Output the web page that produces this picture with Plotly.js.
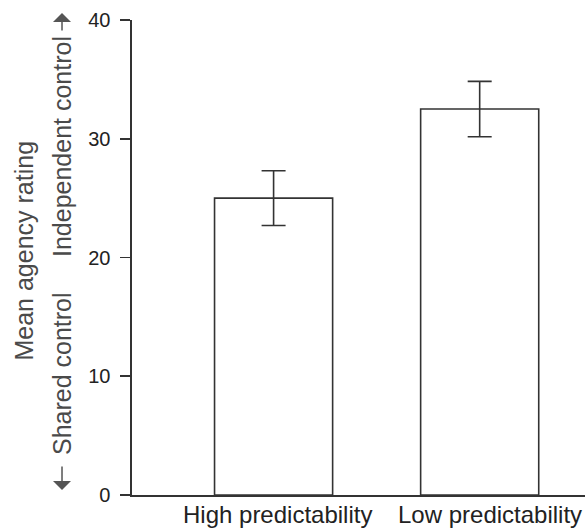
<!DOCTYPE html>
<html>
<head>
<meta charset="utf-8">
<script src="https://cdn.plot.ly/plotly-3.0.1.min.js"></script>
<style>html,body{margin:0;padding:0;background:#fff;}#chart{width:585px;height:528px;}</style>
</head>
<body>
<div id="chart"></div>
<script>
const categories = ["High predictability", "Low predictability"];
const meanRatings = [25.0, 32.5];
const errorValues = [2.3, 2.33];
const yTickValues = [0, 10, 20, 30, 40];
const yTitle = "Mean agency rating";
const lowLabel = "Shared control";
const highLabel = "Independent control";

const FONT = "Liberation Sans, Arial, Helvetica, sans-serif";
const INK = "#333333";
const TITLE_INK = "#4a4a4a";

const trace = {
  type: "bar",
  x: categories,
  y: meanRatings,
  width: 0.573,
  marker: { color: "#ffffff", line: { color: INK, width: 1.6 } },
  error_y: { type: "data", array: errorValues, visible: true, color: INK, thickness: 1.6, width: 12 },
  hoverinfo: "none"
};

const labelShifts = [4, 10];
const catAnnotations = categories.map((c, i) => ({
  text: c, xref: "x", yref: "paper", x: c, y: 0, yshift: -4, xshift: labelShifts[i],
  xanchor: "center", yanchor: "top", showarrow: false,
  font: { size: 24, color: "#222", family: FONT }
}));

const layout = {
  width: 585, height: 528,
  margin: { l: 132, r: 0, t: 20, b: 33 },
  paper_bgcolor: "#ffffff", plot_bgcolor: "#ffffff",
  showlegend: false,
  font: { family: FONT, color: INK },
  xaxis: {
    type: "category",
    range: [-0.687, 1.511],
    showline: true, linecolor: INK, linewidth: 1.6,
    ticks: "", showgrid: false, zeroline: false,
    showticklabels: false
  },
  yaxis: {
    range: [0, 40],
    tickvals: yTickValues,
    ticktext: yTickValues.map(String),
    showline: true, linecolor: INK, linewidth: 1.6,
    ticks: "outside", ticklen: 10, tickwidth: 1.6, tickcolor: INK,
    ticklabelstandoff: 6,
    showgrid: false, zeroline: false,
    tickfont: { size: 20, color: "#222" }
  },
  annotations: catAnnotations.concat([
    { text: yTitle, xref: "paper", yref: "paper", x: -0.2384, y: 0.5147,
      xanchor: "center", yanchor: "middle", textangle: -90, showarrow: false,
      font: { size: 25, color: TITLE_INK, family: FONT } },
    { text: lowLabel, xref: "paper", yref: "paper", x: -0.1545, y: 0.2547,
      xanchor: "center", yanchor: "middle", textangle: -90, showarrow: false,
      font: { size: 25, color: TITLE_INK, family: FONT } },
    { text: highLabel, xref: "paper", yref: "paper", x: -0.1545, y: 0.7326,
      xanchor: "center", yanchor: "middle", textangle: -90, showarrow: false,
      font: { size: 25, color: TITLE_INK, family: FONT } },
    { text: "", xref: "paper", yref: "paper", x: -0.1545, y: 0.0105,
      ax: 0, ay: -25, showarrow: true, arrowhead: 1, arrowsize: 2, arrowwidth: 1.5,
      arrowcolor: "#555", standoff: 0, startstandoff: 0 },
    { text: "", xref: "paper", yref: "paper", x: -0.1545, y: 1.0147,
      ax: 0, ay: 19, showarrow: true, arrowhead: 1, arrowsize: 2, arrowwidth: 1.5,
      arrowcolor: "#555", standoff: 0, startstandoff: 0 }
  ])
};

Plotly.newPlot("chart", [trace], layout, { displayModeBar: false, staticPlot: true });
</script>
</body>
</html>
